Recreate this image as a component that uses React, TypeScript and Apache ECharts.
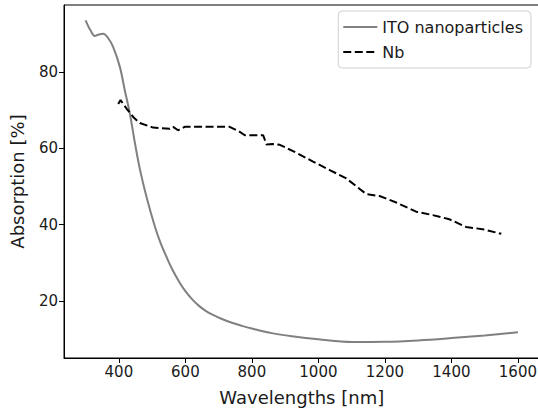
import React, { useEffect, useRef } from "react";
import * as echarts from "echarts";

const itoWavelengths = [300, 315, 328, 340, 353, 368, 383, 403, 418, 433, 448, 463, 483, 508, 525, 543, 560, 583, 600, 620, 640, 660, 680, 710, 740, 770, 800, 860, 920, 1000, 1100, 1200, 1300, 1400, 1500, 1600];
const itoAbsorption = [93.5, 90.8, 89.4, 89.8, 90.0, 88.8, 86.5, 81.3, 75.1, 69.1, 61.5, 54.6, 47.3, 39.6, 35.3, 31.6, 28.4, 24.8, 22.6, 20.5, 18.8, 17.5, 16.5, 15.3, 14.3, 13.5, 12.8, 11.6, 10.8, 10.0, 9.3, 9.35, 9.7, 10.3, 11.0, 11.8];

const nbWavelengths = [398, 405, 423, 443, 463, 503, 553, 563, 578, 598, 733, 760, 779, 834, 844, 863, 884, 934, 984, 1034, 1084, 1144, 1184, 1234, 1294, 1344, 1394, 1444, 1494, 1550];
const nbAbsorption = [71.6, 72.6, 70.4, 68.2, 66.6, 65.4, 65.1, 65.6, 64.7, 65.6, 65.6, 64.5, 63.4, 63.4, 61.0, 61.1, 60.9, 58.8, 56.5, 54.3, 52.1, 48.0, 47.5, 45.8, 43.4, 42.5, 41.4, 39.4, 38.8, 37.6];

const xTicks = [400, 600, 800, 1000, 1200, 1400, 1600];
const yTicks = [20, 40, 60, 80];

const FONT = "DejaVu Sans";
const TEXT = "#1a1a1a";

export default function App() {
  const ref = useRef<HTMLDivElement>(null);

  useEffect(() => {
    document.body.style.overflow = "hidden";
    const chart = echarts.init(ref.current!, undefined, { renderer: "svg" });
    chart.setOption({
      animation: false,
      backgroundColor: "#ffffff",
      textStyle: { fontFamily: FONT },
      grid: {
        left: 64,
        right: 0,
        top: 5,
        bottom: 55,
        show: true,
        borderColor: "#000000",
        borderWidth: 1,
        containLabel: false,
      },
      legend: {
        orient: "vertical",
        right: 9,
        top: 11,
        padding: [8, 8, 8, 4],
        itemGap: 9,
        itemWidth: 34,
        itemHeight: 14,
        backgroundColor: "rgba(255,255,255,0.8)",
        borderColor: "#d0d0d0",
        borderWidth: 1,
        borderRadius: 4,
        itemStyle: { opacity: 0 },
        textStyle: { fontFamily: FONT, fontSize: 16, color: TEXT },
        data: ["ITO nanoparticles", "Nb"],
      },
      xAxis: {
        type: "value",
        min: 235,
        max: 1665,
        name: "Wavelengths [nm]",
        nameLocation: "middle",
        nameGap: 30,
        nameTextStyle: { fontFamily: FONT, fontSize: 18, color: TEXT },
        axisLine: { show: true, onZero: false, lineStyle: { color: "#000", width: 1 } },
        axisTick: { show: true, inside: false, length: 5, customValues: xTicks, lineStyle: { color: "#000" } },
        axisLabel: {
          customValues: xTicks,
          formatter: (v: number) => String(v),
          fontFamily: FONT,
          fontSize: 15,
          color: TEXT,
          margin: 6,
        },
        splitLine: { show: false },
      },
      yAxis: {
        type: "value",
        min: 5.09,
        max: 97.5,
        name: "Absorption [%]",
        nameLocation: "middle",
        nameGap: 38,
        nameRotate: 90,
        nameTextStyle: { fontFamily: FONT, fontSize: 18, color: TEXT },
        axisLine: { show: true, onZero: false, lineStyle: { color: "#000", width: 1 } },
        axisTick: { show: true, inside: false, length: 5, customValues: yTicks, lineStyle: { color: "#000" } },
        axisLabel: {
          customValues: yTicks,
          formatter: (v: number) => String(v),
          fontFamily: FONT,
          fontSize: 15,
          color: TEXT,
          margin: 6,
        },
        splitLine: { show: false },
      },
      series: [
        {
          name: "ITO nanoparticles",
          type: "line",
          data: itoWavelengths.map((x, i) => [x, itoAbsorption[i]]),
          smooth: 0.35,
          symbol: "none",
          showSymbol: false,
          lineStyle: { color: "#808080", width: 2 },
          itemStyle: { color: "#808080" },
        },
        {
          name: "Nb",
          type: "line",
          data: nbWavelengths.map((x, i) => [x, nbAbsorption[i]]),
          symbol: "none",
          showSymbol: false,
          lineStyle: { color: "#000000", width: 2, type: [8, 3.5] },
          itemStyle: { color: "#000000" },
        },
      ],
    });
    return () => chart.dispose();
  }, []);

  return (
    <div
      ref={ref}
      style={{ position: "fixed", left: 0, top: 0, width: 540, height: 413 }}
    />
  );
}
